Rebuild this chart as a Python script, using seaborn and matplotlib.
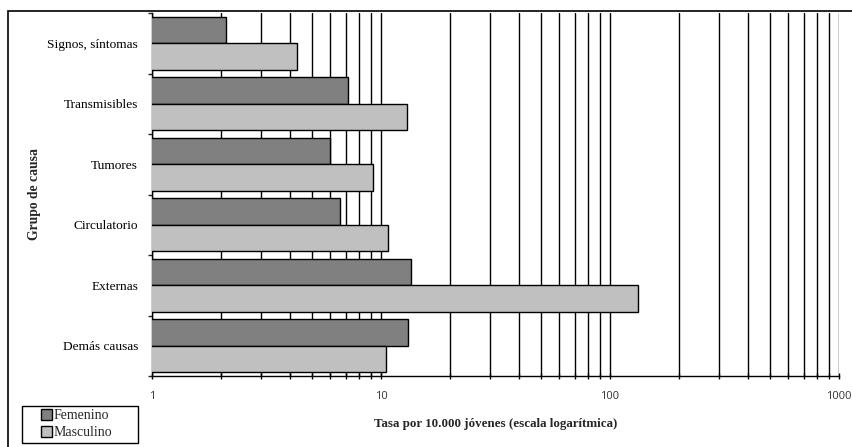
import matplotlib
matplotlib.use("Agg")
import matplotlib.pyplot as plt
import seaborn as sns
import pandas as pd
import numpy as np
from matplotlib.patches import Rectangle
from matplotlib.ticker import LogLocator, FixedLocator, NullFormatter, FixedFormatter

categories = ["Signos, síntomas", "Transmisibles", "Tumores", "Circulatorio", "Externas", "Demás causas"]
femenino = [2.1, 7.2, 6.0, 6.6, 13.5, 13.1]
masculino = [4.3, 13.0, 9.2, 10.7, 132.0, 10.5]
series_names = ["Femenino", "Masculino"]
x_ticks = [1, 10, 100, 1000]
x_tick_labels = ["1", "10", "100", "1000"]

df = pd.DataFrame({
    "causa": categories * 2,
    "tasa": femenino + masculino,
    "sexo": [series_names[0]] * len(categories) + [series_names[1]] * len(categories),
})

sns.set_theme(style="white")
plt.rcParams["font.family"] = ["Liberation Serif", "DejaVu Serif"]

fig = plt.figure(figsize=(8.53, 4.47), dpi=100)
ax = fig.add_axes([152 / 853, 1 - 376 / 447, (839 - 152) / 853, (376 - 13) / 447])

palette = {"Femenino": "#808080", "Masculino": "#c0c0c0"}
sns.barplot(data=df, y="causa", x="tasa", hue="sexo", order=categories,
            hue_order=series_names, palette=palette, orient="h",
            width=0.87, edgecolor="black", linewidth=1.0,
            saturation=1, ax=ax, legend=True, zorder=3)

ax.set_xscale("log")
ax.set_xlim(1, 1000)
ax.set_ylim(len(categories) - 0.5, -0.5)

# grid lines (major + minor)
ax.set_axisbelow(True)
ax.xaxis.set_major_locator(FixedLocator(x_ticks))
ax.xaxis.set_major_formatter(FixedFormatter(x_tick_labels))
ax.xaxis.set_minor_locator(LogLocator(base=10, subs=np.arange(2, 10)))
ax.xaxis.set_minor_formatter(NullFormatter())
ax.grid(True, which="both", axis="x", color="black", linewidth=1.0, zorder=0)
ax.grid(False, axis="y")

for side in ["top", "right"]:
    ax.spines[side].set_visible(False)
for side in ["left", "bottom"]:
    ax.spines[side].set_color("black")
    ax.spines[side].set_linewidth(1.0)

ax.tick_params(axis="x", which="both", direction="inout", length=4, width=1,
               colors="black", labelsize=8, pad=9, bottom=True)
for lab in ax.get_xticklabels():
    lab.set_family(["Open Sans", "DejaVu Sans"])
    lab.set_color("#333333")

ax.yaxis.set_minor_locator(FixedLocator(np.arange(-0.5, len(categories), 1.0)))
ax.tick_params(axis="y", which="major", length=0, labelsize=9.6, pad=10, colors="black")
ax.tick_params(axis="y", which="minor", direction="out", length=3, width=1, left=True)

ax.set_ylabel("Grupo de causa", fontsize=9.8, fontweight="bold", labelpad=0)
ax.yaxis.set_label_coords(-0.162, 0.5)
ax.set_xlabel("Tasa por 10.000 jóvenes (escala logarítmica)", fontsize=9.4, fontweight="bold")
ax.xaxis.set_label_coords(0.5, -0.117)

handles, labels = ax.get_legend_handles_labels()
ax.get_legend().remove()
leg = fig.legend(handles, labels, loc="upper left",
                 bbox_to_anchor=(40 / 853, 1 - 408 / 447), frameon=False,
                 fontsize=10, handlelength=0.75, handleheight=0.75, handletextpad=0.15,
                 borderpad=0.1, labelspacing=0.28, borderaxespad=0)
for h in leg.legend_handles:
    h.set_edgecolor("black")
    h.set_linewidth(1.0)

# legend box
fig.patches.append(Rectangle((22 / 853, 1 - 443 / 447), 116 / 853, 37 / 447,
                             transform=fig.transFigure, fill=False,
                             edgecolor="black", linewidth=1.0))

# outer frame
fig.patches.append(Rectangle((8 / 853, -0.05), 1.0, 1 - 11 / 447 + 0.05,
                             transform=fig.transFigure, fill=False,
                             edgecolor="black", linewidth=1.2))

fig.savefig("out.png", dpi=100)
